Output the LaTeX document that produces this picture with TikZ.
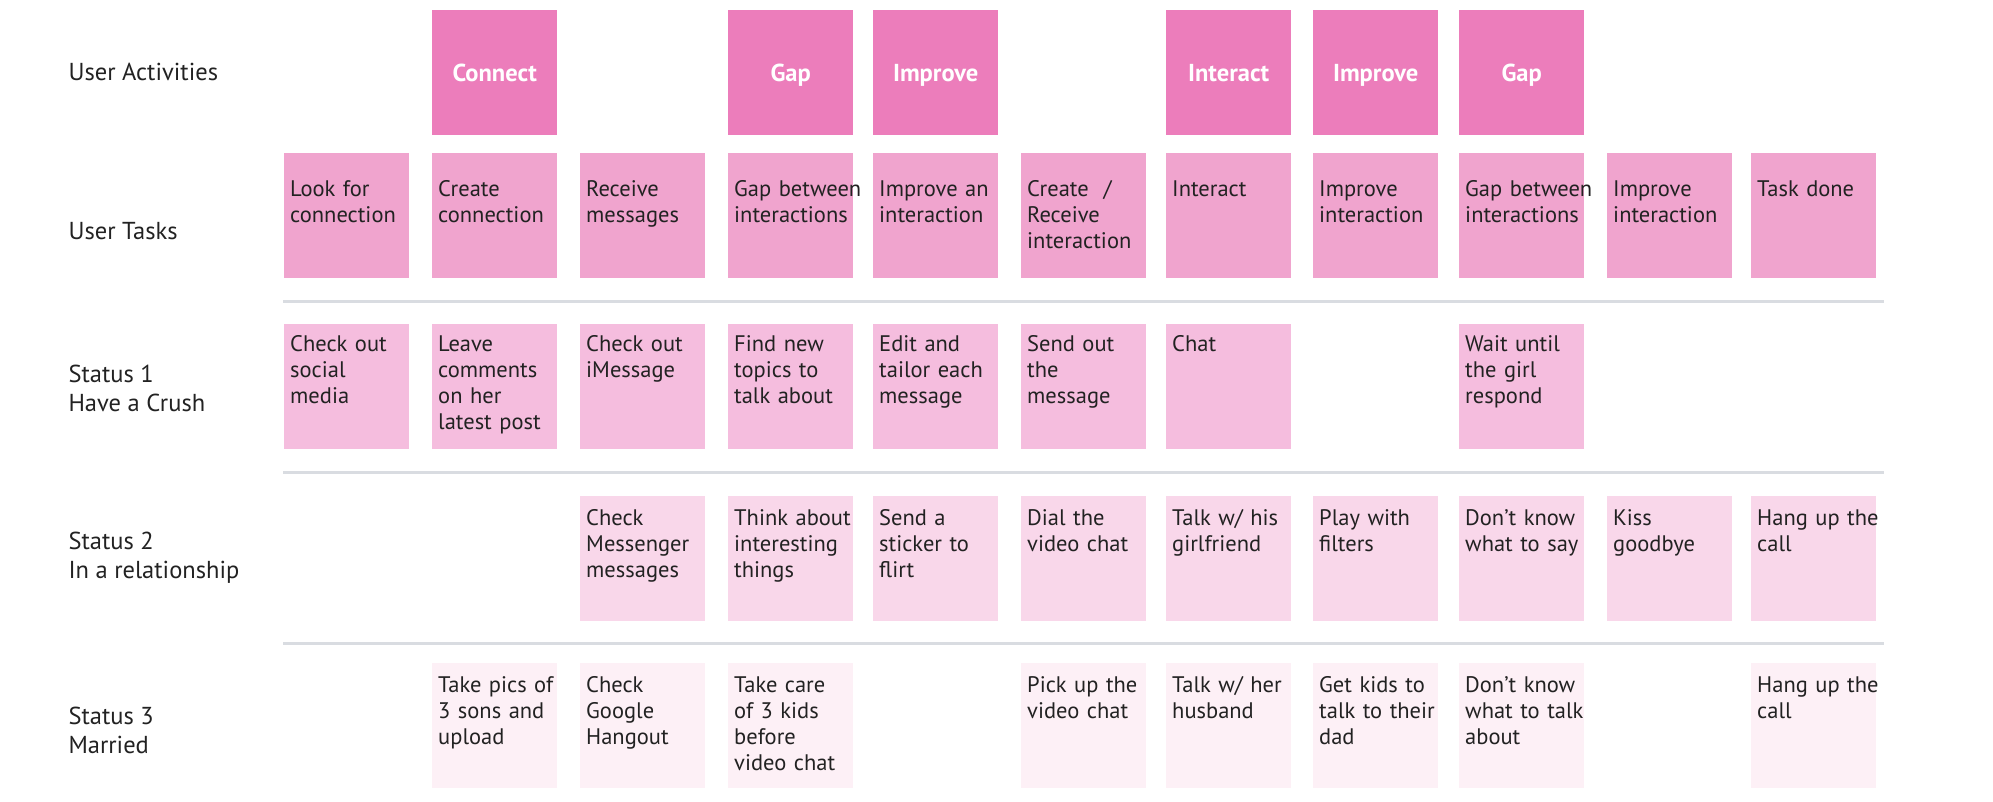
\documentclass[tikz,border=0pt]{standalone}
\usepackage{fontspec}
\setmainfont{PT Sans}
\usepackage{tikz}
\usepackage{xcolor}
\definecolor{actpink}{HTML}{EC7DBB}
\definecolor{taskpink}{HTML}{F0A4CE}
\definecolor{crushpink}{HTML}{F5BDDE}
\definecolor{relpink}{HTML}{F9D7EA}
\definecolor{marpink}{HTML}{FDF0F6}
\definecolor{rulegray}{HTML}{D9DCE1}
\definecolor{inkdark}{HTML}{222222}

\begin{document}
\begin{tikzpicture}[x=1pt, y=-1pt,
  every node/.style={font=\fontsize{22.5}{26}\selectfont, text=inkdark},
  rowlabel/.style={anchor=west, align=left, font=\fontsize{24.5}{29}\selectfont},
  card/.style={anchor=north west, minimum width=125pt, minimum height=125pt, inner xsep=6pt, inner ysep=0pt, text width=113pt, align=left,
    execute at begin node={\hyphenpenalty=10000\exhyphenpenalty=10000}},
  activity/.style={card, fill=actpink, align=center, text=white, text height=20pt, text depth=2pt, font=\bfseries\fontsize{24.5}{29}\selectfont},
  task/.style={card, fill=taskpink, text height=43pt, text depth=82pt},
  crush/.style={card, fill=crushpink, text height=27pt, text depth=98pt},
  relation/.style={card, fill=relpink, text height=29pt, text depth=96pt},
  married/.style={card, fill=marpink, text height=29pt, text depth=96pt},
  divider/.style={draw=rulegray, line width=3pt}
]
\useasboundingbox (0,0) rectangle (1993,802);

% Row labels
\node[rowlabel] (lblact) at (65, 72) {User Activities};
\node[rowlabel] (lbltask) at (65, 231) {User Tasks};
\node[rowlabel] (lblone) at (65, 388) {Status 1\\Have a Crush};
\node[rowlabel] (lbltwo) at (65, 558) {Status 2\\In a relationship};
\node[rowlabel] (lblthree) at (65, 730) {Status 3\\Married};

% User activities
\node[activity] (act2) at (432, 10) {Connect};
\node[activity] (act4) at (728, 10) {Gap};
\node[activity] (act5) at (873, 10) {Improve};
\node[activity] (act7) at (1166, 10) {Interact};
\node[activity] (act8) at (1313, 10) {Improve};
\node[activity] (act9) at (1459, 10) {Gap};

% User tasks
\node[task] (tk1) at (284, 153) {Look for\\connection};
\node[task] (tk2) at (432, 153) {Create\\connection};
\node[task] (tk3) at (580, 153) {Receive\\messages};
\node[task] (tk4) at (728, 153) {Gap~between\\interactions};
\node[task] (tk5) at (873, 153) {Improve~an\\interaction};
\node[task] (tk6) at (1021, 153) {Create~~/\\Receive\\interaction};
\node[task] (tk7) at (1166, 153) {Interact};
\node[task] (tk8) at (1313, 153) {Improve\\interaction};
\node[task] (tk9) at (1459, 153) {Gap~between\\interactions};
\node[task] (tk10) at (1607, 153) {Improve\\interaction};
\node[task] (tk11) at (1751, 153) {Task~done};

\draw[divider] (283, 301) -- (1884, 301);

% Status 1
\node[crush] (sa1) at (284, 324) {Check~out\\social\\media};
\node[crush] (sa2) at (432, 324) {Leave\\comments\\on~her\\latest~post};
\node[crush] (sa3) at (580, 324) {Check~out\\iMessage};
\node[crush] (sa4) at (728, 324) {Find~new\\topics~to\\talk~about};
\node[crush] (sa5) at (873, 324) {Edit~and\\tailor~each\\message};
\node[crush] (sa6) at (1021, 324) {Send~out\\the\\message};
\node[crush] (sa7) at (1166, 324) {Chat};
\node[crush] (sa9) at (1459, 324) {Wait~until\\the~girl\\respond};

\draw[divider] (283, 472) -- (1884, 472);

% Status 2
\node[relation] (sb3) at (580, 496) {Check\\Messenger\\messages};
\node[relation] (sb4) at (728, 496) {Think~about\\interesting\\things};
\node[relation] (sb5) at (873, 496) {Send~a\\sticker~to\\flirt};
\node[relation] (sb6) at (1021, 496) {Dial~the\\video~chat};
\node[relation] (sb7) at (1166, 496) {Talk~w/~his\\girlfriend};
\node[relation] (sb8) at (1313, 496) {Play~with\\filters};
\node[relation] (sb9) at (1459, 496) {Don’t~know\\what~to~say};
\node[relation] (sb10) at (1607, 496) {Kiss\\goodbye};
\node[relation] (sb11) at (1751, 496) {Hang~up~the\\call};

\draw[divider] (283, 643) -- (1884, 643);

% Status 3
\node[married] (sc2) at (432, 663) {Take~pics~of\\3~sons~and\\upload};
\node[married] (sc3) at (580, 663) {Check\\Google\\Hangout};
\node[married] (sc4) at (728, 663) {Take~care\\of~3~kids\\before\\video~chat};
\node[married] (sc6) at (1021, 663) {Pick~up~the\\video~chat};
\node[married] (sc7) at (1166, 663) {Talk~w/~her\\husband};
\node[married] (sc8) at (1313, 663) {Get~kids~to\\talk~to~their\\dad};
\node[married] (sc9) at (1459, 663) {Don’t~know\\what~to~talk\\about};
\node[married] (sc11) at (1751, 663) {Hang~up~the\\call};
\end{tikzpicture}
\end{document}
